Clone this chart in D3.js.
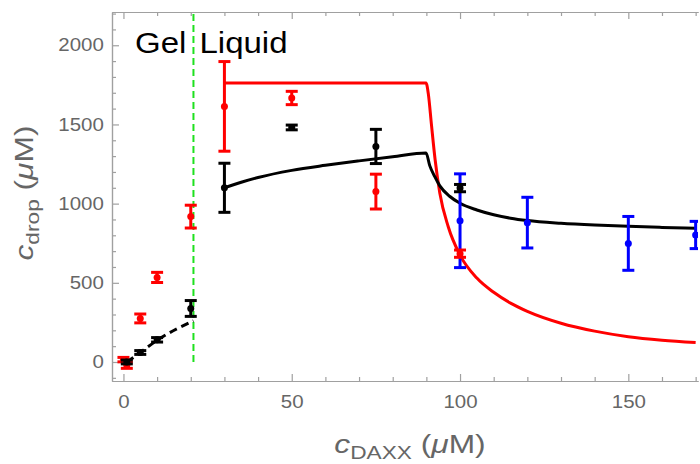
<!DOCTYPE html>
<html>
<head>
<meta charset="utf-8">
<script src="https://cdn.jsdelivr.net/npm/d3@7"></script>
<style>
  body { margin: 0; background: #fff; }
  svg { display: block; font-family: "Liberation Sans", Arial, sans-serif; }
</style>
</head>
<body>
<svg id="chart" width="700" height="464"></svg>
<script>
"use strict";

// measured points (cDAXX in uM, cdrop in uM)
const redX = [0, 1, 5, 10, 20, 30, 50, 75, 100];
const redY = [15, -20, 275, 534, 918, 1614, 1667, 1076, 684];
const redErr = [14, 20, 28, 32, 72, 283, 42, 110, 23];

const blackX = [1, 5, 10, 20, 30, 50, 75, 100];
const blackY = [0, 60, 140, 338, 1100, 1481, 1361, 1098];
const blackErr = [12, 12, 14, 50, 155, 15, 108, 23];

const blueX = [100, 120, 150, 170];
const blueY = [892, 880, 749, 802];
const blueErr = [296, 160, 170, 86];

// model curves
const redCurveX = [30, 89.9, 90.6, 91.5, 92.6, 94, 96.5, 100, 105, 110, 115, 120, 130, 140, 150, 160, 170];
const redCurveY = [1762, 1762, 1690, 1500, 1277, 1066, 854, 675, 530, 440, 372, 320, 245, 195, 160, 138, 123];
const blackCurveX = [30, 35, 40, 50, 60, 70, 80, 89.9, 91, 92.5, 94, 97, 100, 105, 110, 115, 120, 130, 140, 150, 160, 170];
const blackCurveY = [1100, 1135, 1165, 1210, 1242, 1270, 1296, 1320, 1240, 1170, 1112, 1045, 1002, 960, 930, 908, 893, 876, 865, 857, 850, 844];
const dashX = [1, 5, 10, 20.8];
const dashY = [0, 60, 137, 260];

const gelBoundary = 20.8;
const xMajor = [0, 50, 100, 150];
const yMajor = [0, 500, 1000, 1500, 2000];

const plotLeft = 112, plotRight = 698, plotTop = 12, plotBottom = 381;
const svg = d3.select("#chart");

const xScale = d3.scaleLinear().domain([-3.4, 170.7]).range([plotLeft, plotRight]);
const yScale = d3.scaleLinear().domain([-120, 2210]).range([plotBottom, plotTop]);

const xMinor = d3.range(0, 171, 10).filter(v => !xMajor.includes(v));
const yMinor = d3.range(-100, 2201, 100).filter(v => !yMajor.includes(v));

function styleAxis(g) {
    g.selectAll("path, line").attr("stroke", "#a0a0a0").attr("stroke-width", 1.2);
    g.selectAll("text").attr("fill", "#666").attr("font-size", "17.5px");
}

// axes (ticks point inward like a frame)
svg.append("g").attr("transform", `translate(0,${plotBottom})`)
    .call(d3.axisBottom(xScale).tickValues(xMinor).tickSize(-4).tickSizeOuter(0).tickFormat(""))
    .call(styleAxis);
svg.append("g").attr("transform", `translate(0,${plotBottom})`)
    .call(d3.axisBottom(xScale).tickValues(xMajor).tickSize(-7).tickSizeOuter(0)
        .tickPadding(15).tickFormat(d3.format("d")))
    .call(styleAxis)
    .call(g => g.selectAll("text").attr("transform", "scale(1.17,1)"));
svg.append("g").attr("transform", `translate(0,${plotTop})`)
    .call(d3.axisTop(xScale).tickValues(xMinor).tickSize(-4).tickSizeOuter(0).tickFormat(""))
    .call(styleAxis);
svg.append("g").attr("transform", `translate(0,${plotTop})`)
    .call(d3.axisTop(xScale).tickValues(xMajor).tickSize(-7).tickSizeOuter(0).tickFormat(""))
    .call(styleAxis);
svg.append("g").attr("transform", `translate(${plotLeft},0)`)
    .call(d3.axisLeft(yScale).tickValues(yMinor).tickSize(-4).tickSizeOuter(0).tickFormat(""))
    .call(styleAxis);
svg.append("g").attr("transform", `translate(${plotLeft},0)`)
    .call(d3.axisLeft(yScale).tickValues(yMajor).tickSize(-7).tickSizeOuter(0)
        .tickPadding(7).tickFormat(d3.format("d")))
    .call(styleAxis)
    .call(g => g.selectAll("text").attr("transform", "scale(1.17,1)"));

svg.append("clipPath").attr("id", "plot-clip")
    .append("rect").attr("x", plotLeft).attr("y", plotTop)
    .attr("width", plotRight - plotLeft).attr("height", plotBottom - plotTop);
const plot = svg.append("g").attr("clip-path", "url(#plot-clip)");

// gel / liquid boundary
plot.append("line")
    .attr("x1", xScale(gelBoundary)).attr("x2", xScale(gelBoundary))
    .attr("y1", yScale(0)).attr("y2", plotTop)
    .attr("stroke", "#1ee01e").attr("stroke-width", 2).attr("stroke-dasharray", "7,4");

function drawCurve(xs, ys, color, dash) {
    const pts = xs.map((v, i) => [v, ys[i]]);
    const line = d3.line().x(d => xScale(d[0])).y(d => yScale(d[1])).curve(d3.curveMonotoneX);
    plot.append("path").attr("d", line(pts))
        .attr("fill", "none").attr("stroke", color).attr("stroke-width", 3)
        .attr("stroke-dasharray", dash || null);
}
drawCurve(dashX, dashY, "#000", "8,5");
drawCurve(redCurveX, redCurveY, "#ff0000");
drawCurve(blackCurveX, blackCurveY, "#000");

function drawPoints(xs, ys, errs, color) {
    const g = plot.append("g");
    xs.forEach((v, i) => {
        const cx = xScale(v);
        const lo = yScale(ys[i] - errs[i]), hi = yScale(ys[i] + errs[i]);
        g.append("line").attr("x1", cx).attr("x2", cx).attr("y1", lo).attr("y2", hi)
            .attr("stroke", color).attr("stroke-width", 3);
        [lo, hi].forEach(yy => g.append("line")
            .attr("x1", cx - 6).attr("x2", cx + 6).attr("y1", yy).attr("y2", yy)
            .attr("stroke", color).attr("stroke-width", 3));
        g.append("circle").attr("cx", cx).attr("cy", yScale(ys[i])).attr("r", 3.5).attr("fill", color);
    });
}
drawPoints(blueX, blueY, blueErr, "#0000ff");
drawPoints(redX, redY, redErr, "#ff0000");
drawPoints(blackX, blackY, blackErr, "#000");

// region labels
svg.append("text").attr("transform", "translate(135,53) scale(1.1,1)")
    .attr("font-size", "30px").attr("fill", "#000").text("Gel");
svg.append("text").attr("transform", "translate(199.5,53) scale(1.1,1)")
    .attr("font-size", "30px").attr("fill", "#000").text("Liquid");

// axis titles
function axisTitle(transform, sub) {
    const t = svg.append("text").attr("transform", transform)
        .attr("text-anchor", "middle").attr("fill", "#666").attr("font-size", "26px");
    t.append("tspan").attr("font-style", "italic").text("c");
    t.append("tspan").attr("font-size", "18.6px").attr("dy", 6).text(sub);
    t.append("tspan").attr("dy", -6).text(" (");
    t.append("tspan").attr("font-style", "italic").text("\u03bc");
    t.append("tspan").text("M)");
}
axisTitle("translate(410,453) scale(1.22,1)", "DAXX");
axisTitle("translate(33,193) rotate(-90) scale(1.22,1)", "drop");
</script>
</body>
</html>
